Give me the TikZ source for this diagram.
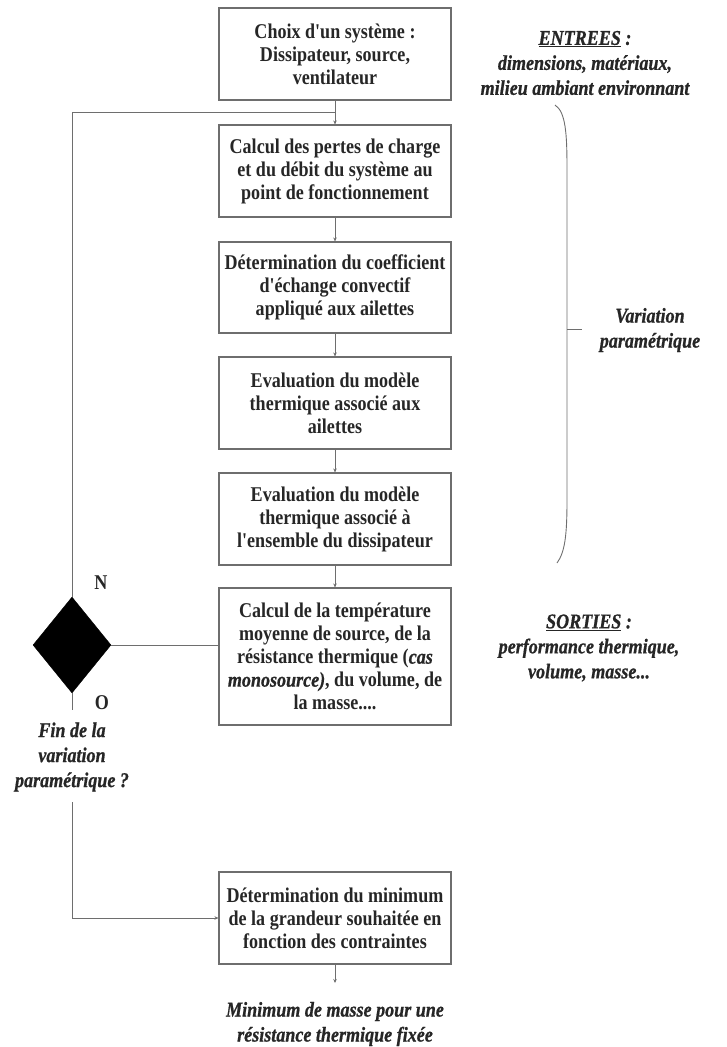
\documentclass[tikz,border=0pt]{standalone}
\usepackage{fontspec}
\setmainfont[FakeStretch=0.86, Ligatures=TeXOff,
  UprightFont={Liberation Serif}, BoldFont={Liberation Serif Bold},
  ItalicFont={Liberation Serif Italic}, BoldItalicFont={Liberation Serif Bold Italic},
  BoldItalicFeatures={FakeBold=0.8}]{Liberation Serif}
\usetikzlibrary{shapes.geometric,arrows.meta}
\definecolor{txt}{HTML}{262626}
\definecolor{ln}{HTML}{6E6E6E}
\tikzset{
  box/.style={draw=ln, line width=1.1pt, minimum width=232pt, inner sep=2pt, align=center,
    text=txt, font=\fontsize{21}{23}\selectfont\bfseries},
  note/.style={align=center, text=txt, font=\fontsize{21}{25}\selectfont\bfseries\itshape},
  conn/.style={draw=ln, line width=0.9pt},
  arr/.style={conn, -{Stealth[length=4pt,width=3.5pt]}},
  yn/.style={text=txt, font=\fontsize{21}{23}\selectfont\bfseries}
}
\begin{document}
\begin{tikzpicture}[x=1pt,y=-1pt]
\useasboundingbox (0,0) rectangle (726,1047);
\node[box, minimum height=92pt] (b1) at (335,54) {Choix d'un système :\\ Dissipateur, source,\\ ventilateur};
\node[box, minimum height=92pt] (b2) at (335,171) {Calcul des pertes de charge\\ et du débit du système au\\ point de fonctionnement};
\node[box, minimum height=91pt] (b3) at (335,287.5) {Détermination du coefficient\\ d'échange convectif\\ appliqué aux ailettes};
\node[box, minimum height=92pt] (b4) at (335,403) {Evaluation du modèle\\ thermique associé aux\\ ailettes};
\node[box, minimum height=92pt] (b5) at (335,519) {Evaluation du modèle\\ thermique associé à\\ l'ensemble du dissipateur};
\node[box, minimum height=137pt] (b6) at (335,656.5) {Calcul de la température\\ moyenne de source, de la\\ résistance thermique (\textit{cas}\\ \textit{monosource)}, du volume, de\\ la masse....};
\node[box, minimum height=92pt] (b7) at (335,918) {Détermination du minimum\\ de la grandeur souhaitée en\\ fonction des contraintes};

\node[diamond, fill=black, draw=black, inner sep=0pt, minimum width=78pt, minimum height=96pt] (dia) at (72,645) {};

\node[yn] (N) at (101,583) {N};
\node[yn] (O) at (102,703) {O};
\node[note] (fin) at (72,757) {Fin de la\\ variation\\ paramétrique ?};

\node[note] (entrees) at (585,63) {\underline{ENTREES} :\\ dimensions, matériaux,\\ milieu ambiant environnant};
\node[note] (var) at (650,330) {Variation\\ paramétrique};
\node[note] (sorties) at (589,648) {\underline{SORTIES} :\\ performance thermique,\\ volume, masse...};
\node[note] (res) at (335,1024) {Minimum de masse pour une\\ résistance thermique fixée};

\coordinate (fb) at (335,112);
\coordinate (stub) at (72,710);
\coordinate (low) at (72,802);
\coordinate (end) at (335,983);

\draw[arr] (b1) -- (b2);
\draw[arr] (b2) -- (b3);
\draw[arr] (b3) -- (b4);
\draw[arr] (b4) -- (b5);
\draw[arr] (b5) -- (b6);
\draw[arr] (b7) -- (end);
\draw[conn] (dia.north) |- (fb);
\draw[conn] (dia.east) -- (dia.east -| b6.west);
\draw[conn] (dia.south) -- (stub);
\draw[arr] (low) |- (b7.west);

\draw[ln, line width=0.9pt] (555,105) .. controls (566,112) and (567,135) .. (567,170) -- (567,500) .. controls (567,535) and (565,552) .. (557,563);
\draw[ln, line width=0.9pt] (567,329) -- (582,329);
\end{tikzpicture}
\end{document}
